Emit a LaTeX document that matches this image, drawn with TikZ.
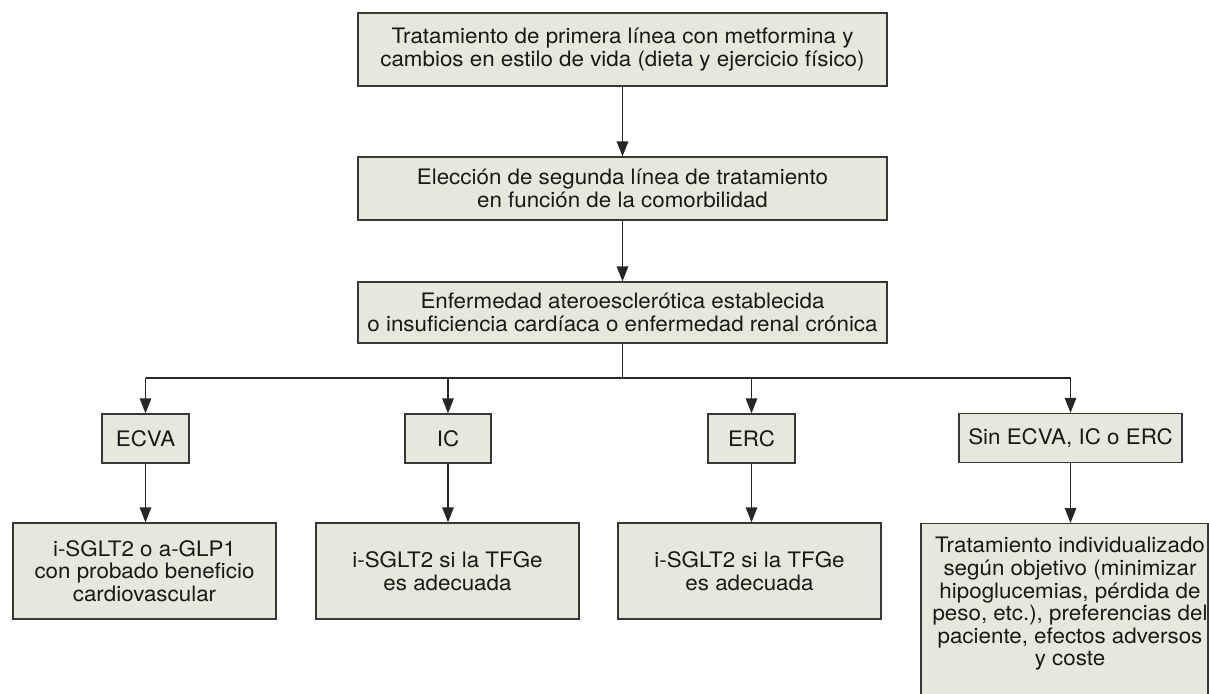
\documentclass[tikz,border=0pt]{standalone}
\usepackage{fontspec}
\setmainfont{TeX Gyre Heros}[FakeStretch=1.05]
\usetikzlibrary{arrows.meta}
\definecolor{boxfill}{RGB}{228,233,219}
\definecolor{boxline}{RGB}{55,55,55}
\definecolor{txtcol}{RGB}{25,25,25}
\begin{document}
\begin{tikzpicture}[x=1pt,y=-1pt,
  box/.style={draw=boxline, fill=boxfill, line width=1.3pt, align=center, inner sep=0pt,
    font=\fontsize{21.3}{22.6}\selectfont, text=txtcol},
  plain/.style={align=center, inner sep=0pt, font=\fontsize{21.3}{22.6}\selectfont, text=txtcol},
  conn/.style={line width=1.3pt, draw=black!85},
  arr/.style={conn, -{Triangle[length=15pt,width=11.5pt]}},
]
\clip (0,0) rectangle (1209,693);
\fill[white] (0,0) rectangle (1209,693);

\node[box, minimum width=529pt, minimum height=73pt] (n1) at (622.5,49.5)
  {Tratamiento de primera línea con metformina y\\cambios en estilo de vida (dieta y ejercicio físico)};
\node[box, minimum width=529pt, minimum height=63pt] (n2) at (622.5,188.5)
  {Elección de segunda línea de tratamiento\\en función de la comorbilidad};
\node[box, minimum width=529pt, minimum height=61pt] (n3) at (622.5,312.5)
  {Enfermedad ateroesclerótica establecida\\o insuficiencia cardíaca o enfermedad renal crónica};

\node[box, minimum width=87pt, minimum height=49pt] (ecva) at (145.5,438.5) {ECVA};
\node[box, minimum width=86pt, minimum height=49pt] (ic) at (448,438.5) {IC};
\node[box, minimum width=87pt, minimum height=49pt] (erc) at (751.5,438.5) {ERC};
\node[box, minimum width=223pt, minimum height=49pt] (sin) at (1070.5,438) {Sin ECVA, IC o ERC};

\node[box, minimum width=263pt, minimum height=96pt] (a) at (144.5,571)
  {i-SGLT2 o a-GLP1\\con probado beneficio\\cardiovascular};
\node[box, minimum width=263pt, minimum height=96pt] (b) at (447.5,571)
  {i-SGLT2 si la TFGe\\es adecuada};
\node[box, minimum width=263pt, minimum height=96pt] (c) at (749.5,571)
  {i-SGLT2 si la TFGe\\es adecuada};
\node[box, minimum width=287pt, minimum height=200pt, anchor=north] (d) at (1064.5,523) {};
\node[plain] (dtext) at (1070,604)
  {Tratamiento individualizado\\según objetivo (minimizar\\hipoglucemias, pérdida de\\peso, etc.), preferencias del\\paciente, efectos adversos\\y coste};

\draw[arr] (n1.south) -- (n2.north);
\draw[arr] (n2.south) -- (n3.north);

\coordinate (bus) at (0,378);
\draw[conn] (n3.south) -- (n3.south |- bus);
\draw[conn] (ecva.north |- bus) -- (sin.north |- bus);
\draw[arr] (ecva.north |- bus) -- (ecva.north);
\draw[arr] (ic.north |- bus) -- (ic.north);
\draw[arr] (erc.north |- bus) -- (erc.north);
\draw[arr] (sin.north |- bus) -- (sin.north);

\draw[arr] (ecva.south) -- (ecva.south |- a.north);
\draw[arr] (ic.south) -- (ic.south |- b.north);
\draw[arr] (erc.south) -- (erc.south |- c.north);
\draw[arr] (sin.south) -- (sin.south |- d.north);
\end{tikzpicture}
\end{document}
